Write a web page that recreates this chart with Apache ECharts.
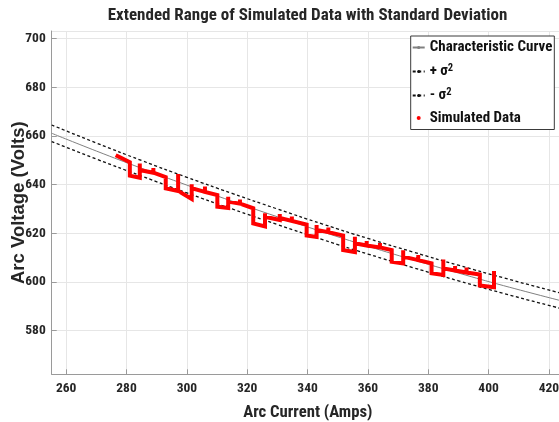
<!DOCTYPE html>
<html>
<head>
<meta charset="utf-8">
<script src="https://cdn.jsdelivr.net/npm/echarts@6/dist/echarts.min.js"></script>
<style>
html,body{margin:0;padding:0;background:#fff;}
#chart{width:559px;height:422px;}
</style>
</head>
<body>
<div id="chart"></div>
<script>
// ---- data ----
const titleText = 'Extended Range of Simulated Data with Standard Deviation';
const xAxisTitle = 'Arc Current (Amps)';
const yAxisTitle = 'Arc Voltage (Volts)';
const xTicks = [260, 280, 300, 320, 340, 360, 380, 400, 420];
const yTicks = [580, 600, 620, 640, 660, 680, 700];

// characteristic curve and +/- sigma^2 band
const curveCurrent = [255.2, 270, 285, 300, 315, 330, 345, 360, 375, 390, 405, 425];
const curveVoltage = [661.1, 653.8, 646.7, 639.8, 633.2, 626.8, 620.6, 614.7, 609.1, 603.7, 598.5, 592.0];
const plusSigma   = [664.5, 657.1, 649.9, 643.0, 636.4, 630.0, 623.8, 617.9, 612.3, 606.9, 601.7, 595.1];
const minusSigma  = [657.7, 650.5, 643.5, 636.6, 630.0, 623.6, 617.4, 611.5, 605.9, 600.5, 595.3, 588.8];

// simulated data trace (current, voltage)
const simCurrent = [277.0, 281.1, 281.1, 284.4, 284.4, 284.4, 288.9, 288.9, 288.9, 293.0,
  293.0, 297.1, 297.1, 297.1, 301.6, 301.6, 301.6, 306.0, 306.0, 306.0,
  310.1, 310.1, 313.7, 313.7, 313.7, 317.6, 317.6, 317.6, 322.0, 322.0,
  325.9, 325.9, 325.9, 330.8, 330.8, 330.8, 334.8, 334.8, 334.8, 339.7,
  339.7, 343.0, 343.0, 343.0, 346.9, 346.9, 346.9, 351.8, 351.8, 355.7,
  355.7, 355.7, 359.6, 359.6, 359.6, 364.0, 364.0, 364.0, 367.9, 367.9,
  371.7, 371.7, 371.7, 376.7, 376.7, 376.7, 381.1, 381.1, 385.0, 385.0,
  385.0, 388.9, 388.9, 388.9, 392.7, 392.7, 392.7, 397.1, 397.1, 401.8, 401.8];
const simVoltage = [651.7, 649.2, 643.7, 642.8, 648.7, 646.0, 644.9, 646.8, 644.9, 643.1,
  638.5, 637.4, 644.4, 637.4, 634.1, 640.2, 638.5, 637.0, 639.2, 637.0,
  635.7, 630.9, 630.4, 635.0, 633.0, 632.2, 633.9, 632.2, 630.3, 624.1,
  622.8, 628.2, 626.8, 625.5, 627.9, 626.3, 625.1, 626.9, 625.1, 623.6,
  619.1, 618.5, 623.4, 621.4, 620.5, 622.4, 620.5, 619.1, 613.1, 612.3,
  618.6, 615.9, 615.0, 616.8, 615.0, 614.2, 616.0, 614.2, 613.1, 608.3,
  607.6, 613.1, 610.4, 609.0, 611.1, 609.0, 607.7, 603.6, 602.9, 609.2,
  605.6, 604.7, 606.6, 604.7, 603.9, 606.0, 603.9, 603.1, 598.6, 597.9, 603.7];

const seriesNames = ['Characteristic Curve', '+ σ²', '- σ²', 'Simulated Data'];

// ---- chart ----
const pair = (xs, ys) => xs.map((x, i) => [x, ys[i]]);
const NARROW = "'Roboto Condensed', 'Open Sans Condensed', 'Liberation Sans Narrow', sans-serif";
const SANS = "'Liberation Sans', Arial, sans-serif";
const TXT = '#262626';
const tickFmt = list => v => (list.indexOf(Math.round(v)) >= 0 && Math.abs(v - Math.round(v)) < 1e-6) ? String(Math.round(v)) : '';

const chart = echarts.init(document.getElementById('chart'), null, {renderer: 'canvas'});
chart.setOption({
  animation: false,
  backgroundColor: '#ffffff',
  title: {
    text: titleText,
    left: 307.5, top: 7, textAlign: 'center', padding: 0,
    textStyle: {fontFamily: NARROW, fontWeight: 'bold', fontSize: 17, color: TXT}
  },
  grid: {left: 51.7, top: 31, right: -5, bottom: 47.7, containLabel: false, outerBoundsMode: 'none'},
  xAxis: {
    type: 'value', min: 255.2, max: 425, splitNumber: 8,
    name: xAxisTitle, nameLocation: 'middle', nameGap: 30, nameMoveOverlap: false,
    nameTextStyle: {fontFamily: NARROW, fontWeight: 'bold', fontSize: 16.7, color: TXT},
    axisLine: {show: true, lineStyle: {color: '#9a9a9a', width: 1}},
    axisTick: {show: true, inside: true, length: 5, lineStyle: {color: '#9a9a9a'}},
    axisLabel: {
      margin: 7, fontFamily: NARROW, fontWeight: 'bold', fontSize: 13.5, color: TXT,
      showMinLabel: false, showMaxLabel: false, formatter: tickFmt(xTicks)
    },
    splitLine: {show: true, lineStyle: {color: '#e6e6e6', width: 1}}
  },
  yAxis: {
    type: 'value', min: 562.1, max: 703.1, splitNumber: 7,
    name: yAxisTitle, nameLocation: 'middle', nameGap: 23, nameRotate: 90, nameMoveOverlap: false,
    nameTextStyle: {fontFamily: SANS, fontWeight: 'bold', fontSize: 18.5, color: TXT},
    axisLine: {show: true, lineStyle: {color: '#9a9a9a', width: 1}},
    axisTick: {show: true, inside: true, length: 5, lineStyle: {color: '#9a9a9a'}},
    axisLabel: {
      margin: 6, fontFamily: NARROW, fontWeight: 'bold', fontSize: 13.5, color: TXT,
      showMinLabel: false, showMaxLabel: false, formatter: tickFmt(yTicks)
    },
    splitLine: {show: true, lineStyle: {color: '#e6e6e6', width: 1}}
  },
  legend: {
    orient: 'vertical', left: 410.7, top: 36,
    padding: [4, 2, 4, 1], itemGap: 7.5, itemWidth: 12, itemHeight: 4,
    backgroundColor: '#ffffff', borderColor: '#3a3a3a', borderWidth: 1, borderRadius: 0,
    selectedMode: false,
    data: [
      {name: seriesNames[0]},
      {name: seriesNames[1]},
      {name: seriesNames[2]},
      {name: seriesNames[3], icon: 'circle'}
    ],
    formatter: function (name) {
      if (name === seriesNames[1]) return '{t|+ σ}{s|2}';
      if (name === seriesNames[2]) return '{t|- σ}{s|2}';
      return '{t|' + name + '}';
    },
    textStyle: {
      color: TXT,
      rich: {
        t: {fontFamily: NARROW, fontWeight: 'bold', fontSize: 15, lineHeight: 18, color: '#111'},
        s: {fontFamily: NARROW, fontWeight: 'bold', fontSize: 10.5, lineHeight: 10, verticalAlign: 'top', color: '#111'}
      }
    }
  },
  series: [
    {name: seriesNames[0], type: 'line', smooth: true, symbol: 'none', data: pair(curveCurrent, curveVoltage),
      lineStyle: {color: '#808080', width: 1}, itemStyle: {color: '#808080'}, z: 2},
    {name: seriesNames[1], type: 'line', smooth: true, symbol: 'none', data: pair(curveCurrent, plusSigma),
      lineStyle: {color: '#111111', width: 1.3, type: [3, 2.5]}, itemStyle: {color: '#111111'}, z: 2},
    {name: seriesNames[2], type: 'line', smooth: true, symbol: 'none', data: pair(curveCurrent, minusSigma),
      lineStyle: {color: '#111111', width: 1.3, type: [3, 2.5]}, itemStyle: {color: '#111111'}, z: 2},
    {name: seriesNames[3], type: 'line', smooth: false, symbol: 'none', data: pair(simCurrent, simVoltage),
      lineStyle: {color: '#ff0000', width: 4, join: 'miter', cap: 'square'}, itemStyle: {color: '#ff0000'}, z: 3}
  ]
});
</script>
</body>
</html>
